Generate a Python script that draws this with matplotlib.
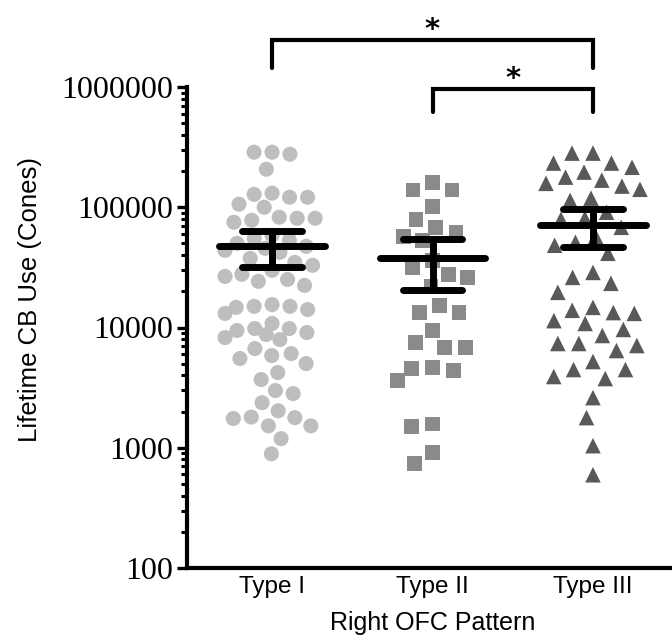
import numpy as np
import matplotlib
matplotlib.use("Agg")
import matplotlib.pyplot as plt
from matplotlib.ticker import LogLocator, NullFormatter
from matplotlib.transforms import blended_transform_factory

# ---------------- data ----------------
categories = ["Type I", "Type II", "Type III"]

type1_values = [287000, 276000, 287000, 207000,
                131000, 128000, 121000, 121000,
                106000, 100000,
                82600, 78000, 81000, 75000, 81000,
                58400, 55200, 53100, 50100, 47300, 45500, 43800, 42200,
                37600, 34800,
                32900, 29900, 27700, 26600, 25100, 24200, 22400,
                15500, 15000, 15000, 14700, 14100, 13100,
                10800, 9800, 9440, 9800, 9080, 8740, 8250, 7940,
                6680, 6070, 5840, 5520, 5010,
                4220, 3690,
                2990, 2820,
                2370,
                2030, 1800, 1780, 1750,
                1520, 1520,
                1190,
                890]

type2_values = [161000, 139000, 139000, 102000, 79400, 68100, 61900, 57300,
                53100, 36200, 31600, 27700, 26100, 22000, 15200, 13300, 13300,
                9440, 7500, 6810, 6810, 4640, 4540, 4380, 3620, 1580, 1500,
                910, 740]

type3_values = [282000, 282000, 233000, 233000, 215000, 196000, 178000, 168000,
                158000, 150000, 141000, 119000, 114000, 90900, 81000, 79400,
                68100, 57300, 51100, 48300, 41400, 28700, 26100, 23300, 19600,
                14700, 13900, 13300, 13100, 11400, 10800, 9630, 8580, 7360,
                7360, 7080, 6430, 5210, 4470, 4470, 3910, 3760, 2610, 1780,
                1040, 596]

group_means = [48000, 37600, 70800]
group_err_low = [32000, 20700, 46400]
group_err_high = [64000, 54000, 96000]

y_ticks = [100, 1000, 10000, 100000, 1000000]
y_tick_labels = ["100", "1000", "10000", "100000", "1000000"]

comparisons = [(0, 2, "*"), (1, 2, "*")]

# ---------------- figure ----------------
W, H = 672, 640
fig = plt.figure(figsize=(W / 100, H / 100), dpi=100)
ax_left, ax_right, ax_top, ax_bottom = 187, 670, 87, 568
ax = fig.add_axes([ax_left / W, 1 - ax_bottom / H,
                   (ax_right - ax_left) / W, (ax_bottom - ax_top) / H])
ax.set_yscale("log")
ax.set_ylim(100, 1000000)
ax.set_xlim(-0.53, 2.48)

for s in ["top", "right"]:
    ax.spines[s].set_visible(False)
for s in ["left", "bottom"]:
    ax.spines[s].set_linewidth(3.0)
    ax.spines[s].set_capstyle("projecting")


def swarm_x(ax, xc, values, d, max_hw):
    """Beeswarm layout in pixel space, limited to +/- max_hw pixels."""
    vals = np.asarray(values, dtype=float)
    pts = ax.transData.transform(np.column_stack([np.full(len(vals), xc), vals]))
    ys = pts[:, 1]
    x0 = pts[0, 0]
    order = np.argsort(-ys, kind="stable")
    placed = []
    offs = np.zeros(len(vals))
    grid = np.linspace(-max_hw, max_hw, 97)
    for i in order:
        y = ys[i]
        near = [(px, py) for px, py in placed if abs(py - y) < d]
        cands = [0.0]
        for px, py in near:
            dx = np.sqrt(max(d * d - (py - y) ** 2, 0))
            cands += [px + dx, px - dx]
        cands = [c for c in cands if abs(c) <= max_hw + 1e-6]
        cands.sort(key=lambda c: (round(abs(c), 6), c))
        chosen = None
        for c in cands:
            if all((c - px) ** 2 + (y - py) ** 2 >= d * d - 1e-6 for px, py in near):
                chosen = c
                break
        if chosen is None:
            best, bestd = 0.0, -1
            for c in grid:
                md = min((c - px) ** 2 + (y - py) ** 2 for px, py in near)
                if md > bestd + 1e-9:
                    best, bestd = c, md
            chosen = best
        placed.append((chosen, y))
        offs[i] = chosen
    data = ax.transData.inverted().transform(np.column_stack([x0 + offs, ys]))
    return data[:, 0]


groups = [type1_values, type2_values, type3_values]
markers = ["o", "s", "^"]
colors = ["#bebebe", "#8a8a8a", "#595959"]
sizes = [118, 112, 125]
spacing = [18.0, 21.0, 21.0]
max_halfwidth = [47, 35, 47]

for i, (vals, m, c, s, d, mh) in enumerate(zip(groups, markers, colors, sizes,
                                               spacing, max_halfwidth)):
    xs = swarm_x(ax, i, vals, d, mh)
    ax.scatter(xs, vals, marker=m, s=s, color=c, edgecolors="none", zorder=2)

# mean and error bars
mean_hw = 0.33
cap_hw = 0.185
lw_bar = 5.0
for i in range(len(categories)):
    ax.plot([i - mean_hw, i + mean_hw], [group_means[i]] * 2, color="black",
            lw=lw_bar, solid_capstyle="round", zorder=4)
    ax.plot([i, i], [group_err_low[i], group_err_high[i]], color="black",
            lw=lw_bar, solid_capstyle="butt", zorder=4)
    for v in (group_err_low[i], group_err_high[i]):
        ax.plot([i - cap_hw, i + cap_hw], [v, v], color="black",
                lw=lw_bar, solid_capstyle="round", zorder=4)

# ticks
ax.set_yticks(y_ticks)
ax.set_yticklabels(y_tick_labels, fontfamily="Liberation Serif", fontsize=23)
ax.yaxis.set_minor_locator(LogLocator(base=10, subs=np.arange(2, 10)))
ax.yaxis.set_minor_formatter(NullFormatter())
ax.tick_params(axis="y", which="major", length=7, width=2.4, pad=3, direction="out")
ax.tick_params(axis="y", which="minor", length=4, width=2.2, direction="out")

ax.set_xticks(range(len(categories)))
ax.set_xticklabels(categories, fontfamily="Liberation Sans", fontsize=17.5)
ax.tick_params(axis="x", length=0, pad=6)

fig.text(30 / W, 1 - 300 / H, "Lifetime CB Use (Cones)", rotation=90,
         ha="center", va="center", fontfamily="Liberation Sans", fontsize=18.5)
fig.text(433 / W, 1 - 623 / H, "Right OFC Pattern",
         ha="center", va="center", fontfamily="Liberation Sans", fontsize=18)

# significance brackets
trans = blended_transform_factory(ax.transData, ax.transAxes)
bracket_levels = [(1.098, 1.040), (0.996, 0.948)]
for (a, b, lab), (top, leg) in zip(comparisons, bracket_levels):
    ax.plot([a, a, b, b], [leg, top, top, leg], color="black", lw=3.0,
            transform=trans, clip_on=False, solid_capstyle="round",
            solid_joinstyle="miter", zorder=5)
    ax.text((a + b) / 2, top + 0.004, lab, transform=trans, ha="center",
            va="baseline", fontsize=21, fontweight="bold",
            fontfamily="DejaVu Sans", clip_on=False)

fig.savefig("out.png", dpi=100)
